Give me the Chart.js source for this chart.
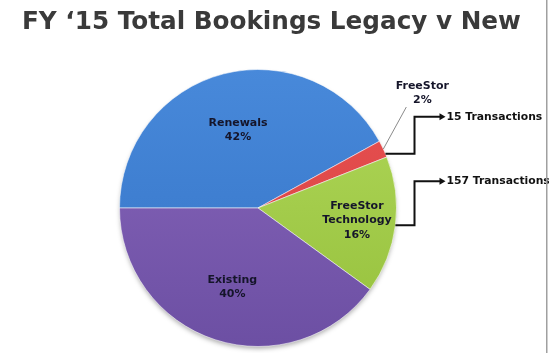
<!DOCTYPE html>
<html>
<head>
<meta charset="utf-8">
<script src="https://cdn.jsdelivr.net/npm/chart.js@4"></script>
<style>
  html, body { margin: 0; padding: 0; background: #fff; }
  #wrap { width: 549px; height: 353px; position: relative; }
</style>
</head>
<body>
<div id="wrap"><canvas id="pie"></canvas></div>
<script>
const categories = ['Renewals', 'FreeStor', 'FreeStor Technology', 'Existing'];
const shares = [42, 2, 16, 40];
const transactions = [null, 15, 157, null];

const topColors = ['#4889da', '#e85252', '#b1d85a', '#8967bc'];
const bottomColors = ['#3473c6', '#d63f3f', '#95c03c', '#6c4fa3'];

// how far out each slice label sits (fraction of radius), null = outside label
const labelRadius = [0.58, null, 0.72, 0.6];
const FONT = '"DejaVu Sans", Verdana, sans-serif';

function sliceFill(c) {
    const chart = c.chart;
    const area = chart.chartArea;
    if (!area) return topColors[c.dataIndex];
    const g = chart.ctx.createLinearGradient(0, area.top, 0, area.bottom);
    g.addColorStop(0, topColors[c.dataIndex]);
    g.addColorStop(1, bottomColors[c.dataIndex]);
    return g;
}

function arcInfo(arc) {
    const p = arc.getProps(['x', 'y', 'startAngle', 'endAngle', 'outerRadius'], true);
    p.mid = (p.startAngle + p.endAngle) / 2;
    return p;
}

const pieShadow = {
    id: 'pieShadow',
    beforeDatasetsDraw(chart) {
        const arc = chart.getDatasetMeta(0).data[0];
        if (!arc) return;
        const p = arcInfo(arc);
        const ctx = chart.ctx;
        ctx.save();
        ctx.shadowColor = 'rgba(0,0,0,0.35)';
        ctx.shadowBlur = 5;
        ctx.shadowOffsetY = 3;
        ctx.fillStyle = '#7a5fae';
        ctx.beginPath();
        ctx.arc(p.x, p.y, p.outerRadius - 1, 0, Math.PI * 2);
        ctx.fill();
        ctx.restore();
    }
};

const sliceLabels = {
    id: 'sliceLabels',
    afterDatasetsDraw(chart) {
        const ctx = chart.ctx;
        const arcs = chart.getDatasetMeta(0).data;
        ctx.save();
        ctx.font = 'bold 11px ' + FONT;
        ctx.textAlign = 'center';
        ctx.textBaseline = 'middle';
        ctx.fillStyle = '#15152a';
        arcs.forEach((arc, i) => {
            const p = arcInfo(arc);
            const lines = categories[i].split(' ').concat(shares[i] + '%');
            let cx, cy;
            if (labelRadius[i] !== null) {
                cx = p.x + Math.cos(p.mid) * p.outerRadius * labelRadius[i];
                cy = p.y + Math.sin(p.mid) * p.outerRadius * labelRadius[i];
            } else {
                // outside label with a thin leader line
                const ex = p.x + Math.cos(p.mid) * p.outerRadius;
                const ey = p.y + Math.sin(p.mid) * p.outerRadius;
                cx = ex + 39;
                cy = ey - 56;
                ctx.strokeStyle = '#8a8a8a';
                ctx.lineWidth = 1;
                ctx.beginPath();
                ctx.moveTo(ex, ey);
                ctx.lineTo(cx - 16, cy + 14);
                ctx.stroke();
            }
            const lh = 14.5;
            lines.forEach((t, k) => {
                ctx.fillText(t, cx, cy + (k - (lines.length - 1) / 2) * lh);
            });
        });
        ctx.restore();
    }
};

const callouts = {
    id: 'callouts',
    afterDatasetsDraw(chart) {
        const ctx = chart.ctx;
        const arcs = chart.getDatasetMeta(0).data;
        const rise = [0, 37, 44, 0];
        const anchor = [0.5, 0.8, 0.5, 0.5];
        ctx.save();
        ctx.strokeStyle = '#111';
        ctx.fillStyle = '#111';
        ctx.lineWidth = 2;
        ctx.font = 'bold 10.8px ' + FONT;
        ctx.textAlign = 'left';
        ctx.textBaseline = 'middle';
        arcs.forEach((arc, i) => {
            if (transactions[i] === null) return;
            const p = arcInfo(arc);
            const a = p.startAngle + (p.endAngle - p.startAngle) * anchor[i];
            const sx = p.x + Math.cos(a) * p.outerRadius;
            const sy = p.y + Math.sin(a) * p.outerRadius;
            const elbow = p.x + p.outerRadius * 1.13;
            const ty = sy - rise[i];
            const tip = elbow + 30;
            ctx.beginPath();
            ctx.moveTo(sx, sy);
            ctx.lineTo(elbow, sy);
            ctx.lineTo(elbow, ty);
            ctx.lineTo(tip - 4, ty);
            ctx.stroke();
            ctx.beginPath();
            ctx.moveTo(tip + 1, ty);
            ctx.lineTo(tip - 5, ty - 3.5);
            ctx.lineTo(tip - 5, ty + 3.5);
            ctx.closePath();
            ctx.fill();
            ctx.fillText(transactions[i] + ' Transactions', tip + 2, ty);
        });
        ctx.restore();
    }
};

const frame = {
    id: 'frame',
    afterDraw(chart) {
        const ctx = chart.ctx;
        ctx.save();
        ctx.fillStyle = '#3a3a3a';
        ctx.font = 'bold 24.7px ' + FONT;
        ctx.textAlign = 'left';
        ctx.textBaseline = 'middle';
        ctx.fillText('FY \u201815 Total Bookings Legacy v New', 22, 23);
        ctx.fillStyle = '#a0a0a0';
        ctx.fillRect(546, 0, 1.5, chart.height);
        ctx.restore();
    }
};

new Chart(document.getElementById('pie'), {
    type: 'pie',
    data: {
        labels: categories,
        datasets: [{
            data: shares,
            backgroundColor: sliceFill,
            borderColor: 'rgba(255,255,255,0.55)',
            borderWidth: 1
        }]
    },
    options: {
        responsive: true,
        maintainAspectRatio: false,
        animation: false,
        rotation: -90,
        layout: {
            padding: { left: 119, right: 152, top: 69, bottom: 6 }
        },
        plugins: {
            legend: { display: false },
            tooltip: { enabled: false },
            title: { display: false }
        }
    },
    plugins: [pieShadow, sliceLabels, callouts, frame]
});
</script>
</body>
</html>
